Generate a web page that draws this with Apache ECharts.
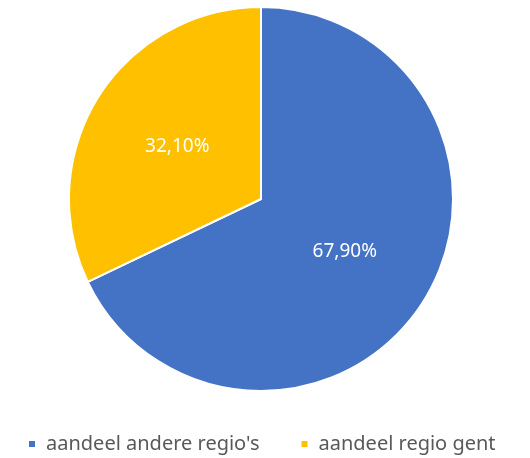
<!DOCTYPE html>
<html>
<head>
<meta charset="utf-8">
<script src="https://cdn.jsdelivr.net/npm/echarts@6/dist/echarts.min.js"></script>
<style>
  html, body { margin: 0; padding: 0; background: #fff; }
  #main { width: 530px; height: 458px; }
</style>
</head>
<body>
<div id="main"></div>
<script>
// data
const categories = ["aandeel andere regio's", 'aandeel regio gent']
const shares = [67.9, 32.1]
const colors = ['#4472C4', '#FFC000']

const chart = echarts.init(document.getElementById('main'))

const option = {
  animation: false,
  color: colors,
  legend: {
    left: 22,
    top: 429,
    itemWidth: 8,
    itemHeight: 8,
    itemGap: 40,
    icon: 'rect',
    textStyle: {
      color: '#595959',
      fontSize: 20,
      fontFamily: 'Noto Sans',
      padding: [0, 0, 0, 5]
    },
    data: categories
  },
  series: [
    {
      type: 'pie',
      center: [261, 199],
      radius: [0, 192],
      startAngle: 90,
      clockwise: true,
      itemStyle: { borderColor: '#fff', borderWidth: 2 },
      label: {
        show: true,
        position: 'inside',
        color: '#fff',
        fontSize: 19,
        fontFamily: 'Noto Sans',
        // 67,90% style with comma
        formatter: p => p.value.toFixed(2).replace('.', ',') + '%'
      },
      labelLine: { show: false },
      emphasis: { disabled: true },
      data: categories.map((name, i) => ({ name: name, value: shares[i] }))
    }
  ]
}

chart.setOption(option)
</script>
</body>
</html>
